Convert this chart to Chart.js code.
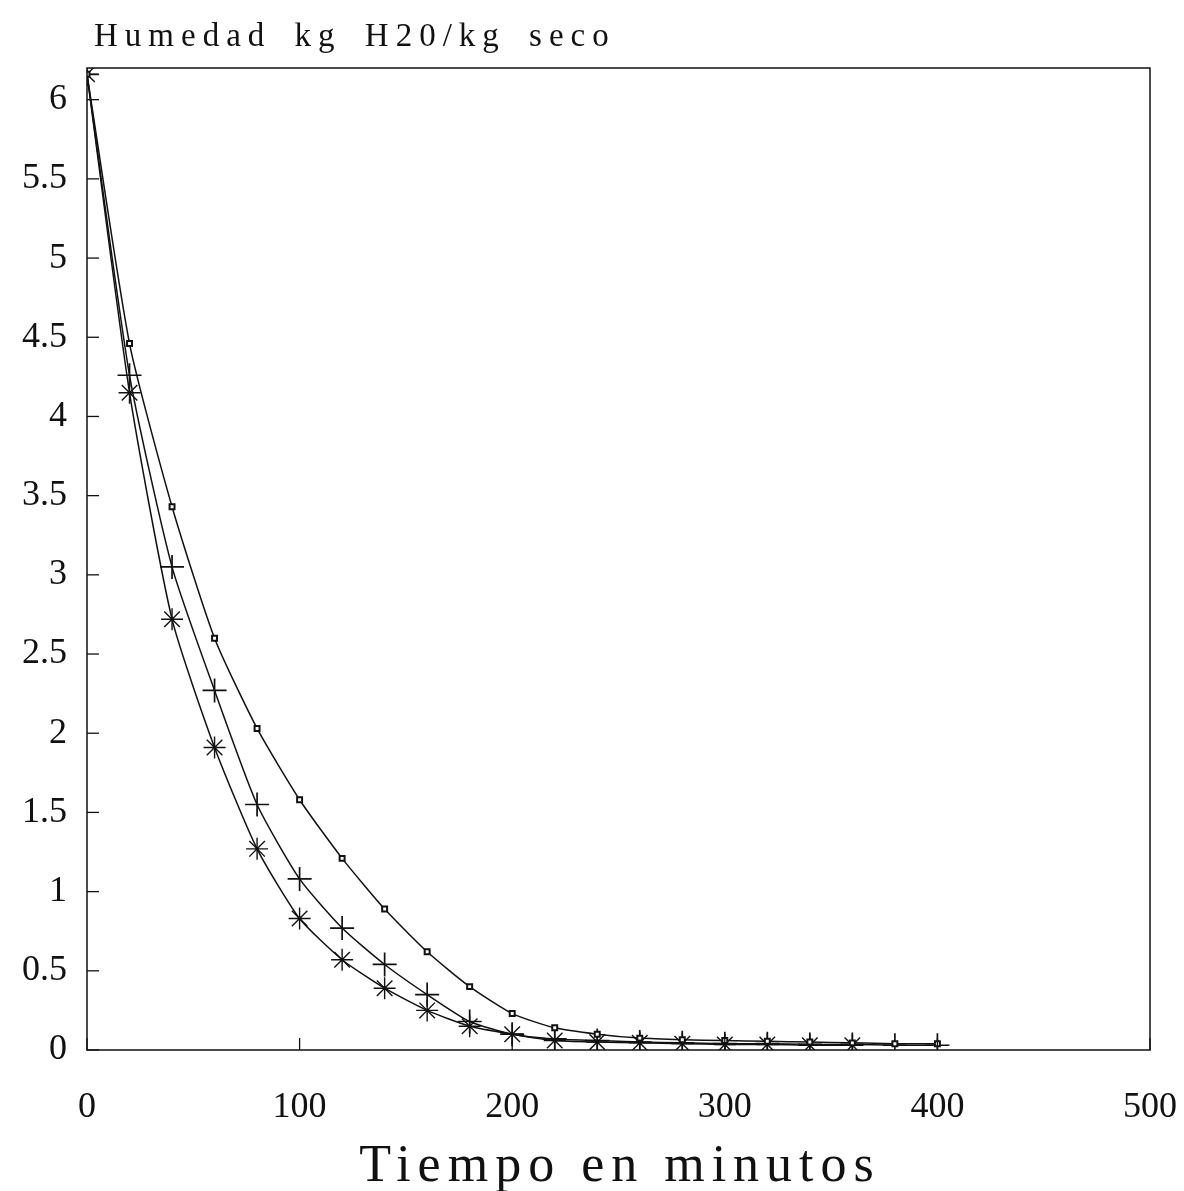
<!DOCTYPE html>
<html>
<head>
<meta charset="utf-8">
<script src="https://cdn.jsdelivr.net/npm/chart.js@4.4.1/dist/chart.umd.min.js"></script>
<style>
  html, body { margin: 0; padding: 0; background: #fff; }
  #wrap { width: 1184px; height: 1191px; }
</style>
</head>
<body>
<div id="wrap"><canvas id="chart"></canvas></div>
<script>
// tiempo en minutos
const tiempo = [0, 20, 40, 60, 80, 100, 120, 140, 160, 180, 200, 220, 240, 260, 280, 300, 320, 340, 360, 380, 400];
// humedad, kg H2O / kg seco
const serieCuadros = [6.16, 4.46, 3.43, 2.60, 2.03, 1.58, 1.21, 0.89, 0.62, 0.40, 0.23, 0.14, 0.10, 0.075, 0.065, 0.06, 0.055, 0.05, 0.045, 0.04, 0.04];
const serieCruces = [6.16, 4.26, 3.05, 2.27, 1.55, 1.08, 0.77, 0.54, 0.35, 0.18, 0.10, 0.07, 0.06, 0.05, 0.045, 0.04, 0.04, 0.035, 0.035, 0.03, 0.03];
const serieEstrellas = [6.16, 4.15, 2.72, 1.91, 1.27, 0.83, 0.57, 0.39, 0.25, 0.15, 0.10, 0.06, 0.05, 0.045, 0.04, 0.035, 0.035, 0.03, 0.03];
const ticksX = [0, 100, 200, 300, 400, 500];
const ticksY = [0, 0.5, 1, 1.5, 2, 2.5, 3, 3.5, 4, 4.5, 5, 5.5, 6];

const tituloY = "Humedad kg H20/kg seco";
const tituloX = "Tiempo en minutos";

const serif = "'Liberation Serif', 'DejaVu Serif', serif";

function puntos(ys) {
    return ys.map((y, i) => ({ x: tiempo[i], y: y }));
}

// marco, marcas interiores y textos de los ejes
const marcoPlugin = {
    id: "marco",
    afterDraw(chart) {
        const { ctx, chartArea, scales } = chart;
        ctx.save();
        ctx.strokeStyle = "#111";
        ctx.lineWidth = 1.5;
        ctx.strokeRect(chartArea.left, chartArea.top, chartArea.right - chartArea.left, chartArea.bottom - chartArea.top);
        ctx.lineWidth = 1.3;
        ticksX.forEach(v => {
            const px = scales.x.getPixelForValue(v);
            ctx.beginPath();
            ctx.moveTo(px, chartArea.bottom);
            ctx.lineTo(px, chartArea.bottom - 12);
            ctx.stroke();
        });
        ticksY.forEach(v => {
            const py = scales.y.getPixelForValue(v);
            ctx.beginPath();
            ctx.moveTo(chartArea.left, py);
            ctx.lineTo(chartArea.left + 12, py);
            ctx.stroke();
        });
        ctx.fillStyle = "#111";
        ctx.font = "33px " + serif;
        ctx.textBaseline = "alphabetic";
        ctx.textAlign = "left";
        ctx.letterSpacing = "7px";
        ctx.wordSpacing = "8px";
        ctx.fillText(tituloY, chartArea.left + 7, 46);
        ctx.font = "52px " + serif;
        ctx.textAlign = "center";
        ctx.letterSpacing = "7px";
        ctx.wordSpacing = "0px";
        ctx.fillText(tituloX, 620, 1181);
        ctx.restore();
    }
};

const ctx = document.getElementById("chart").getContext("2d");
new Chart(ctx, {
    type: "line",
    data: {
        datasets: [
            {
                label: "cuadros",
                data: puntos(serieCuadros),
                borderColor: "#111",
                backgroundColor: "#fff",
                borderWidth: 1.5,
                pointStyle: "rect",
                pointRadius: 3.5,
                pointBorderWidth: 2,
                pointBorderColor: "#111",
                tension: 0.2
            },
            {
                label: "cruces",
                data: puntos(serieCruces),
                borderColor: "#111",
                borderWidth: 1.5,
                pointStyle: "cross",
                pointRadius: 12,
                pointBorderWidth: 1.7,
                pointBorderColor: "#111",
                tension: 0.2
            },
            {
                label: "estrellas",
                data: puntos(serieEstrellas),
                borderColor: "#111",
                borderWidth: 1.5,
                pointStyle: "star",
                pointRadius: 11,
                pointBorderWidth: 1.4,
                pointBorderColor: "#111",
                tension: 0.2
            }
        ]
    },
    options: {
        responsive: true,
        maintainAspectRatio: false,
        animation: false,
        layout: {
            padding: { top: 68, right: 34, left: 0, bottom: 0 }
        },
        plugins: {
            legend: { display: false },
            tooltip: { enabled: false }
        },
        scales: {
            x: {
                type: "linear",
                min: 0,
                max: 500,
                border: { display: false },
                grid: { display: false },
                afterBuildTicks: axis => { axis.ticks = ticksX.map(v => ({ value: v })); },
                afterFit: scale => {
                    scale.height = 141;
                    scale.paddingLeft = 0;
                    scale.paddingRight = 0;
                },
                ticks: {
                    color: "#111",
                    padding: 28,
                    maxRotation: 0,
                    callback: v => String(v),
                    font: { family: serif, size: 36 }
                }
            },
            y: {
                type: "linear",
                min: 0,
                max: 6.2,
                border: { display: false },
                grid: { display: false },
                afterBuildTicks: axis => { axis.ticks = ticksY.map(v => ({ value: v })); },
                afterFit: scale => { scale.width = 87; },
                ticks: {
                    color: "#111",
                    padding: 12,
                    callback: v => String(v),
                    font: { family: serif, size: 36 }
                }
            }
        }
    },
    plugins: [marcoPlugin]
});
</script>
</body>
</html>
